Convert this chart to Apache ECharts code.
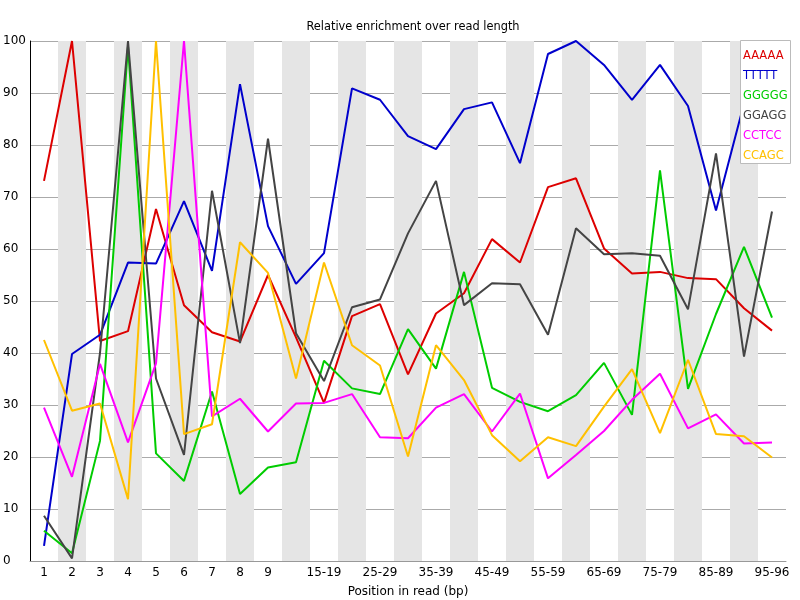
<!DOCTYPE html>
<html>
<head>
<meta charset="utf-8">
<script src="https://cdn.jsdelivr.net/npm/echarts@6/dist/echarts.min.js"></script>
<style>html,body{margin:0;padding:0;background:#fff}#c{width:800px;height:600px}</style>
</head>
<body>
<div id="c"></div>
<script>
const categories = ['1','2','3','4','5','6','7','8','9','10-14','15-19','20-24','25-29','30-34','35-39','40-44','45-49','50-54','55-59','60-64','65-69','70-74','75-79','80-84','85-89','90-94','95-96'];
const AAAAA = [73.1,100,42.3,44.2,67.7,49.2,44,42.2,55,43,30.4,47.1,49.4,35.9,47.6,51.5,61.9,57.4,71.9,73.6,60.1,55.3,55.6,54.4,54.2,48.6,44.3];
const TTTTT = [2.9,39.8,43.5,57.4,57.2,69.2,55.8,91.7,64.4,53.3,59.2,90.9,88.7,81.7,79.2,86.9,88.2,76.5,97.5,100,95.4,88.7,95.4,87.5,67.4,88,85];
const GGGGG = [5.8,1.5,23.1,99,20.7,15.4,32.6,12.9,18.0,19.0,38.5,33.2,32.1,44.6,37.0,55.6,33.3,30.6,28.8,31.9,38.1,28.1,75.1,33.1,47.5,60.4,46.8];
const GGAGG = [8.7,0.5,40,100,35.1,20.4,71.2,41.9,81.2,43.8,34.6,48.8,50.3,63.0,73.1,49.2,53.4,53.2,43.5,64.0,59.0,59.2,58.7,48.4,78.4,39.3,67.2];
const CCTCC = [29.5,16.2,37.9,22.8,38,100,27.8,31.2,24.9,30.3,30.4,32.1,23.8,23.6,29.5,32.1,24.9,32.2,15.9,20.4,25.0,31.0,36.0,25.5,28.2,22.6,22.8];
const CCAGC = [42.5,28.9,30.3,11.9,100,24.4,26.3,61.3,55.4,35.1,57.4,41.5,37.6,20.1,41.5,34.8,24.2,19.2,23.8,22.1,29.7,36.9,24.6,38.7,24.4,24.0,19.9];
const yTicks = [0,10,20,30,40,50,60,70,80,90,100];

const seriesDefs = [
  {name:'AAAAA', data:AAAAA, color:'#dd0000'},
  {name:'TTTTT', data:TTTTT, color:'#0000cc'},
  {name:'GGGGG', data:GGGGG, color:'#00cc00'},
  {name:'GGAGG', data:GGAGG, color:'#444444'},
  {name:'CCTCC', data:CCTCC, color:'#ff00ff'},
  {name:'CCAGC', data:CCAGC, color:'#ffc000'}
];

const chart = echarts.init(document.getElementById('c'), null, {renderer:'canvas'});
const font = 'DejaVu Sans';
const legendItems = [{type:'rect', shape:{x:740.5, y:40.5, width:50, height:123},
  style:{fill:'#fff', stroke:'#bbbbbb', lineWidth:1}, z:100}];
seriesDefs.forEach((s,i)=>{
  legendItems.push({type:'text', x:743, y:56+20*i, z:101,
    style:{text:s.name, fill:s.color, font:'11.5px "DejaVu Sans"', textVerticalAlign:'middle', textAlign:'left'}});
});
chart.setOption({
  animation:false,
  backgroundColor:'#fff',
  title:{text:'Relative enrichment over read length', left:408, textAlign:'center', top:17,
    textStyle:{fontFamily:font, fontSize:11.4, fontWeight:'normal', color:'#000'}},
  grid:{left:30, right:14, top:41, bottom:39, outerBoundsMode:'none', containLabel:false},
  xAxis:{type:'category', data:categories, boundaryGap:true,
    name:'Position in read (bp)', nameLocation:'middle', nameGap:25,
    nameTextStyle:{fontFamily:font, fontSize:12, color:'#000'},
    axisLine:{lineStyle:{color:'#999', width:1}},
    axisTick:{show:false},
    axisLabel:{fontFamily:font, fontSize:12, color:'#000', margin:6,
      interval:(i)=> i<9 || (i>=10 && (i-10)%2===0)},
    splitLine:{show:false},
    splitArea:{show:true, interval:0, areaStyle:{color:['rgba(255,255,255,0)','#e5e5e5']}}
  },
  yAxis:{type:'value', min:0, max:100, interval:10,
    axisLine:{show:true, lineStyle:{color:'#000', width:1}},
    axisTick:{show:false},
    axisLabel:{fontFamily:font, fontSize:12, color:'#000', margin:27, align:'left',
      formatter:(v)=> yTicks.includes(v) ? String(v) : ''},
    splitLine:{show:true, lineStyle:{color:'#aaaaaa', width:1}}
  },
  graphic:legendItems,
  series:seriesDefs.map(s=>({
    name:s.name, type:'line', data:s.data, symbol:'none',
    lineStyle:{color:s.color, width:2}, itemStyle:{color:s.color}
  }))
});
</script>
</body>
</html>
